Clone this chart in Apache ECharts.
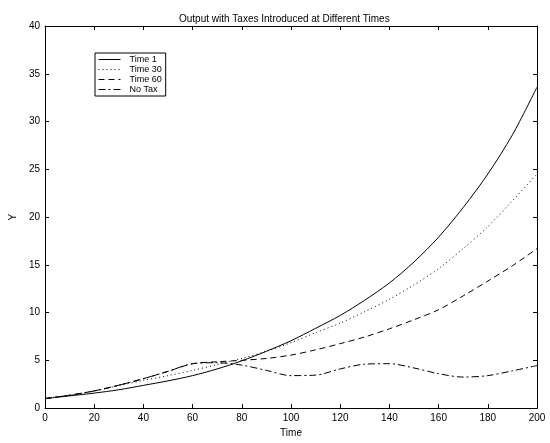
<!DOCTYPE html>
<html>
<head>
<meta charset="utf-8">
<script src="https://cdn.jsdelivr.net/npm/echarts@6/dist/echarts.min.js"></script>
<style>html,body{margin:0;padding:0;background:#fff}#c{width:550px;height:443px}</style>
</head>
<body>
<div id="c"></div>
<script>
var times = [0,10,20,30,40,50,60,70,80,90,100,110,120,130,140,150,160,170,180,190,200];
var time1 = [1.0,1.28,1.57,1.92,2.38,2.85,3.4,4.1,4.95,5.95,7.05,8.35,9.7,11.3,13.1,15.3,17.9,21.0,24.5,28.6,33.6];
var time30 = [1.0,1.35,1.8,2.35,2.9,3.4,3.95,4.55,5.2,5.95,6.85,7.9,8.9,10.1,11.4,12.9,14.6,16.7,19.0,21.7,24.5];
var time60 = [1.0,1.35,1.8,2.4,3.08,3.85,4.65,4.85,5.0,5.2,5.55,6.1,6.75,7.45,8.3,9.25,10.3,11.75,13.3,14.9,16.7];
var noTax = [1.0,1.35,1.8,2.4,3.08,3.85,4.65,4.75,4.5,3.95,3.4,3.45,4.1,4.6,4.65,4.2,3.6,3.25,3.4,3.9,4.45];
var xTicks = [0,20,40,60,80,100,120,140,160,180,200];
var yTicks = [0,5,10,15,20,25,30,35,40];
var seriesNames = ['Time 1','Time 30','Time 60','No Tax'];

function pairs(v){ return times.map(function(t,i){ return [t, v[i]]; }); }

var chart = echarts.init(document.getElementById('c'), null, {renderer:'canvas'});
var font = 'Liberation Sans, Arial, sans-serif';
function baseAxis(extra){
  var a = {
    axisLine:{show:true, onZero:false, lineStyle:{color:'#000', width:1}},
    axisTick:{show:true, inside:true, length:4, lineStyle:{color:'#000'}},
    splitLine:{show:false},
    axisLabel:{color:'#000', fontSize:10, fontFamily:font}
  };
  for (var k in extra) a[k] = extra[k];
  return a;
}
var lineTypes = ['solid',[1,3],[6,4],[7,3,2,3]];
var data = [time1, time30, time60, noTax];
chart.setOption({
  animation:false,
  backgroundColor:'#fff',
  title:{text:'Output with Taxes Introduced at Different Times', left:174, top:9,
    textStyle:{fontSize:10, fontWeight:'normal', color:'#000', fontFamily:font}},
  grid:{left:43, right:13, top:26, bottom:28},
  legend:{
    data: seriesNames, orient:'vertical', left:95, top:53,
    backgroundColor:'#fff', borderColor:'#000', borderWidth:1, borderRadius:0,
    padding:[2,4,2,3], itemGap:1, itemWidth:22, itemHeight:9,
    itemStyle:{opacity:0},
    lineStyle:{width:1},
    textStyle:{fontSize:9, color:'#000', fontFamily:font, padding:[0,0,0,4]}
  },
  xAxis:[
    baseAxis({type:'value', min:0, max:200, interval:20, name:'Time', nameLocation:'middle', nameGap:17,
      nameTextStyle:{color:'#000', fontSize:10, fontFamily:font},
      axisLabel:{color:'#000', fontSize:10, fontFamily:font, margin:5,
        formatter:function(v){ return xTicks.indexOf(v)>=0 ? String(v) : ''; }}}),
    baseAxis({type:'value', min:0, max:200, interval:20, position:'top', axisLabel:{show:false}})
  ],
  yAxis:[
    baseAxis({type:'value', min:0, max:40, interval:5, name:'Y', nameLocation:'middle', nameGap:20, nameRotate:90,
      nameTextStyle:{color:'#000', fontSize:10, fontFamily:font},
      axisLabel:{color:'#000', fontSize:10, fontFamily:font, margin:5,
        formatter:function(v){ return yTicks.indexOf(v)>=0 ? String(v) : ''; }}}),
    baseAxis({type:'value', min:0, max:40, interval:5, position:'right', axisLabel:{show:false}})
  ],
  series: seriesNames.map(function(n,i){
    return {name:n, type:'line', data:pairs(data[i]), symbol:'none', smooth:0.3,
      lineStyle:{color:'#000', width:1, type:lineTypes[i]}, itemStyle:{color:'#000'}};
  })
});
</script>
</body>
</html>
